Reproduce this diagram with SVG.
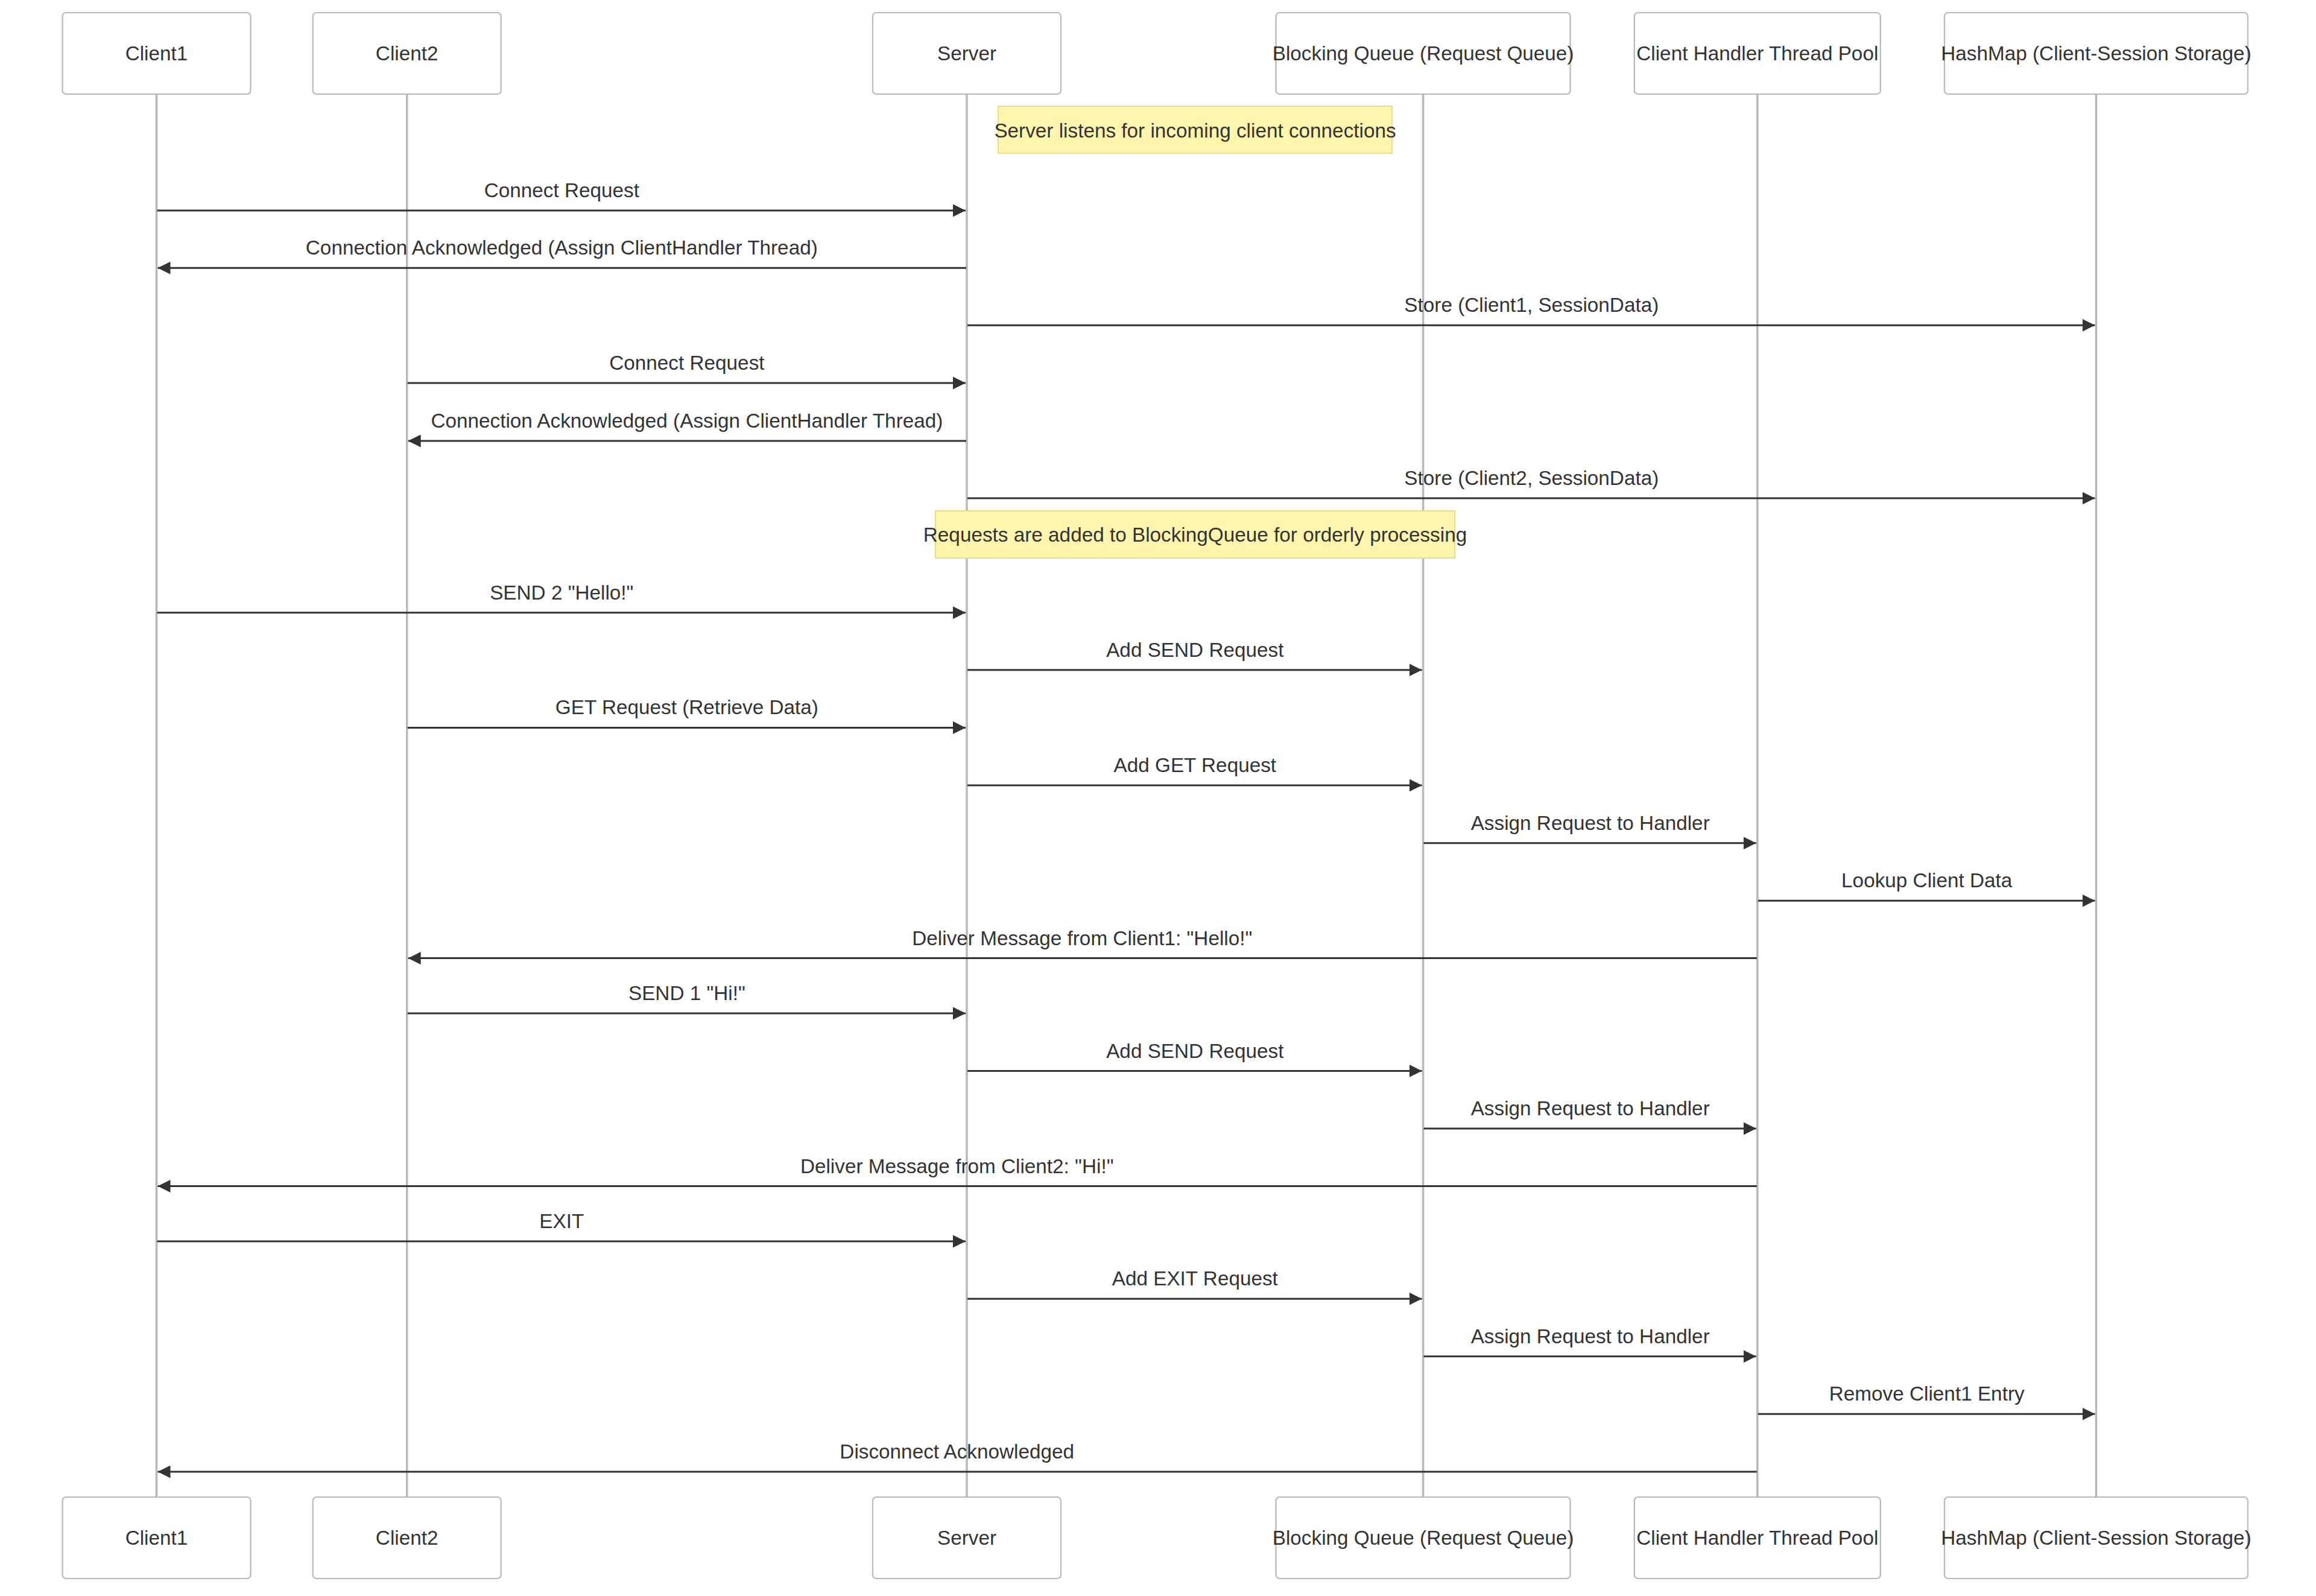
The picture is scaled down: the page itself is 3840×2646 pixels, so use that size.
<svg xmlns="http://www.w3.org/2000/svg" width="3840" height="2646" viewBox="0 0 3840 2646">
<style>
.actor{fill:#ffffff;stroke:#b8b8b8;stroke-width:2.2}
.atext{font-family:"Liberation Sans",Arial,sans-serif;font-size:33.3px;fill:#333333;text-anchor:middle}
.life{stroke:#b8b8b8;stroke-width:3.5}
.msg{stroke:#333333;stroke-width:3;fill:none;marker-end:url(#arrow)}
.mtext{font-family:"Liberation Sans",Arial,sans-serif;font-size:33.3px;fill:#333333;text-anchor:middle}
.note{fill:#fff5ad;stroke:#e6dc92;stroke-width:2.2}
</style>
<defs>
<marker id="arrow" viewBox="0 0 10 10" refX="10" refY="5" markerUnits="userSpaceOnUse" markerWidth="21" markerHeight="21" orient="auto">
<path d="M0,0 L10,5 L0,10 z" fill="#333333"/>
</marker>
</defs>
<rect width="3840" height="2646" fill="#ffffff"/>
<g id="lifelines">
<line class="life" x1="259.5" y1="156" x2="259.5" y2="2482"/>
<line class="life" x1="674.7" y1="156" x2="674.7" y2="2482"/>
<line class="life" x1="1603" y1="156" x2="1603" y2="2482"/>
<line class="life" x1="2359.6" y1="156" x2="2359.6" y2="2482"/>
<line class="life" x1="2913.8" y1="156" x2="2913.8" y2="2482"/>
<line class="life" x1="3475.5" y1="156" x2="3475.5" y2="2482"/>
</g>
<g id="actor-client1">
<rect class="actor" x="103.5" y="21" width="312" height="135" rx="6"/>
<text class="atext" x="259.5" y="100">Client1</text>
<rect class="actor" x="103.5" y="2482" width="312" height="135" rx="6"/>
<text class="atext" x="259.5" y="2561">Client1</text>
</g>
<g id="actor-client2">
<rect class="actor" x="518.7" y="21" width="312" height="135" rx="6"/>
<text class="atext" x="674.7" y="100">Client2</text>
<rect class="actor" x="518.7" y="2482" width="312" height="135" rx="6"/>
<text class="atext" x="674.7" y="2561">Client2</text>
</g>
<g id="actor-server">
<rect class="actor" x="1447" y="21" width="312" height="135" rx="6"/>
<text class="atext" x="1603" y="100">Server</text>
<rect class="actor" x="1447" y="2482" width="312" height="135" rx="6"/>
<text class="atext" x="1603" y="2561">Server</text>
</g>
<g id="actor-queue">
<rect class="actor" x="2115.6" y="21" width="488" height="135" rx="6"/>
<text class="atext" x="2359.6" y="100">Blocking Queue (Request Queue)</text>
<rect class="actor" x="2115.6" y="2482" width="488" height="135" rx="6"/>
<text class="atext" x="2359.6" y="2561">Blocking Queue (Request Queue)</text>
</g>
<g id="actor-pool">
<rect class="actor" x="2709.8" y="21" width="408" height="135" rx="6"/>
<text class="atext" x="2913.8" y="100">Client Handler Thread Pool</text>
<rect class="actor" x="2709.8" y="2482" width="408" height="135" rx="6"/>
<text class="atext" x="2913.8" y="2561">Client Handler Thread Pool</text>
</g>
<g id="actor-hashmap">
<rect class="actor" x="3224" y="21" width="503" height="135" rx="6"/>
<text class="atext" x="3475.5" y="100">HashMap (Client-Session Storage)</text>
<rect class="actor" x="3224" y="2482" width="503" height="135" rx="6"/>
<text class="atext" x="3475.5" y="2561">HashMap (Client-Session Storage)</text>
</g>
<g id="note1">
<rect class="note" x="1655" y="176" width="653" height="78"/>
<text class="mtext" x="1981.5" y="227.5">Server listens for incoming client connections</text>
</g>
<g id="note2">
<rect class="note" x="1551" y="847" width="861" height="78"/>
<text class="mtext" x="1981.5" y="898">Requests are added to BlockingQueue for orderly processing</text>
</g>
<g id="messages">
<line class="msg" x1="260.5" y1="349" x2="1601" y2="349"/>
<text class="mtext" x="931.3" y="327">Connect Request</text>
<line class="msg" x1="1602" y1="444.3" x2="261.5" y2="444.3"/>
<text class="mtext" x="931.3" y="422.3">Connection Acknowledged (Assign ClientHandler Thread)</text>
<line class="msg" x1="1604" y1="539.3" x2="3473.5" y2="539.3"/>
<text class="mtext" x="2539.3" y="517.3">Store (Client1, SessionData)</text>
<line class="msg" x1="675.7" y1="635" x2="1601" y2="635"/>
<text class="mtext" x="1138.9" y="613">Connect Request</text>
<line class="msg" x1="1602" y1="731" x2="676.7" y2="731"/>
<text class="mtext" x="1138.9" y="709">Connection Acknowledged (Assign ClientHandler Thread)</text>
<line class="msg" x1="1604" y1="826" x2="3473.5" y2="826"/>
<text class="mtext" x="2539.3" y="804">Store (Client2, SessionData)</text>
<line class="msg" x1="260.5" y1="1015.7" x2="1601" y2="1015.7"/>
<text class="mtext" x="931.3" y="993.7">SEND 2 "Hello!"</text>
<line class="msg" x1="1604" y1="1110.7" x2="2357.6" y2="1110.7"/>
<text class="mtext" x="1981.3" y="1088.7">Add SEND Request</text>
<line class="msg" x1="675.7" y1="1206.4" x2="1601" y2="1206.4"/>
<text class="mtext" x="1138.9" y="1184.4">GET Request (Retrieve Data)</text>
<line class="msg" x1="1604" y1="1302" x2="2357.6" y2="1302"/>
<text class="mtext" x="1981.3" y="1280">Add GET Request</text>
<line class="msg" x1="2360.6" y1="1397.8" x2="2911.8" y2="1397.8"/>
<text class="mtext" x="2636.7" y="1375.8">Assign Request to Handler</text>
<line class="msg" x1="2914.8" y1="1493.3" x2="3473.5" y2="1493.3"/>
<text class="mtext" x="3194.7" y="1471.3">Lookup Client Data</text>
<line class="msg" x1="2912.8" y1="1588.6" x2="676.7" y2="1588.6"/>
<text class="mtext" x="1794.3" y="1566.6">Deliver Message from Client1: "Hello!"</text>
<line class="msg" x1="675.7" y1="1680" x2="1601" y2="1680"/>
<text class="mtext" x="1138.9" y="1658">SEND 1 "Hi!"</text>
<line class="msg" x1="1604" y1="1775.5" x2="2357.6" y2="1775.5"/>
<text class="mtext" x="1981.3" y="1753.5">Add SEND Request</text>
<line class="msg" x1="2360.6" y1="1871" x2="2911.8" y2="1871"/>
<text class="mtext" x="2636.7" y="1849">Assign Request to Handler</text>
<line class="msg" x1="2912.8" y1="1966.5" x2="261.5" y2="1966.5"/>
<text class="mtext" x="1586.7" y="1944.5">Deliver Message from Client2: "Hi!"</text>
<line class="msg" x1="260.5" y1="2058" x2="1601" y2="2058"/>
<text class="mtext" x="931.3" y="2036">EXIT</text>
<line class="msg" x1="1604" y1="2153.3" x2="2357.6" y2="2153.3"/>
<text class="mtext" x="1981.3" y="2131.3">Add EXIT Request</text>
<line class="msg" x1="2360.6" y1="2248.8" x2="2911.8" y2="2248.8"/>
<text class="mtext" x="2636.7" y="2226.8">Assign Request to Handler</text>
<line class="msg" x1="2914.8" y1="2344.3" x2="3473.5" y2="2344.3"/>
<text class="mtext" x="3194.7" y="2322.3">Remove Client1 Entry</text>
<line class="msg" x1="2912.8" y1="2440" x2="261.5" y2="2440"/>
<text class="mtext" x="1586.7" y="2418">Disconnect Acknowledged</text>
</g>
</svg>
